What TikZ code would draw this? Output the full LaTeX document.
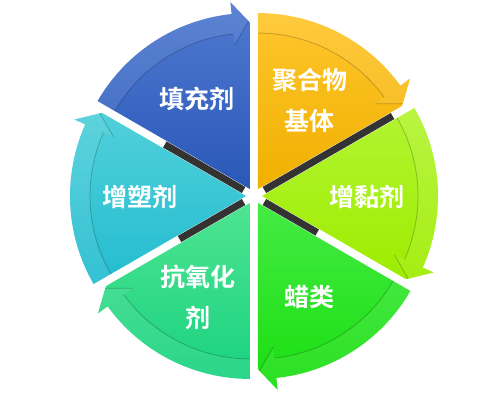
\documentclass[tikz,border=0pt]{standalone}
\usepackage{fontspec}
\newfontfamily\cjk{Noto Sans CJK SC}[BoldFont={Noto Sans CJK SC Bold}]
\definecolor{blueA}{RGB}{80,122,208}
\definecolor{blueB}{RGB}{42,88,185}
\definecolor{orangeA}{RGB}{255,198,45}
\definecolor{orangeB}{RGB}{240,176,0}
\definecolor{limeA}{RGB}{178,245,50}
\definecolor{limeB}{RGB}{158,236,0}
\definecolor{greenA}{RGB}{68,235,68}
\definecolor{greenB}{RGB}{25,222,15}
\definecolor{tealgA}{RGB}{78,228,145}
\definecolor{tealgB}{RGB}{25,210,128}
\definecolor{tealA}{RGB}{80,208,218}
\definecolor{tealB}{RGB}{35,188,208}

\begin{document}
\begin{tikzpicture}[x=1pt,y=1pt,
    sector_label/.style={font=\cjk\bfseries\fontsize{25}{41}\selectfont,text=white,align=center,inner sep=0pt},
    band_line/.style={black,opacity=0.22,line width=0.8pt},
    side_strip/.style={line width=7pt,black!80}]

    \useasboundingbox (-254,-209) rectangle (226,196);

    \foreach \s/\ca/\cb in {150/blueA/blueB, 90/orangeA/orangeB, 30/limeA/limeB,
                            -30/greenA/greenB, -90/tealgA/tealgB, -150/tealA/tealB}{
        \pgfmathsetmacro\e{\s-60}
        \pgfmathsetmacro\b{\s-30}
        \begin{scope}[shift={(\b:8pt)}]
            \path[top color=\ca,bottom color=\cb]
                (0,0) -- (\s:176pt) arc[start angle=\s,end angle=\e+6,radius=176pt]
                -- (\e+6:188pt) -- (\e+0.5:168pt) -- (\e:166pt) -- cycle;
            \fill[white,opacity=0.08]
                (\s:156pt) arc[start angle=\s,end angle=\e+6,radius=156pt]
                -- (\e+6:145pt) -- (\e+0.5:168pt) -- (\e+6:188pt) -- (\e+6:176pt)
                arc[start angle=\e+6,end angle=\s,radius=176pt] -- cycle;
            \draw[band_line] (\s:156pt) arc[start angle=\s,end angle=\e+6,radius=156pt];
            \draw[band_line] (\e+6:145pt) -- (\e+0.5:168pt);
        \end{scope}
    }

    \foreach \a/\l in {30/160, 150/103, -30/73, -150/86}
        \draw[side_strip] (\a:12pt) -- (\a:\l pt);

    \node[sector_label] (filler) at (-57,97) {填充剂};
    \node[sector_label] (polymer) at (56,96) {聚合物\\基体};
    \node[sector_label] (tackifier) at (113,-1) {增黏剂};
    \node[sector_label] (wax) at (56,-101) {蜡类};
    \node[sector_label] (antiox) at (-56,-101) {抗氧化\\剂};
    \node[sector_label] (plasticizer) at (-114,-1) {增塑剂};
\end{tikzpicture}
\end{document}
